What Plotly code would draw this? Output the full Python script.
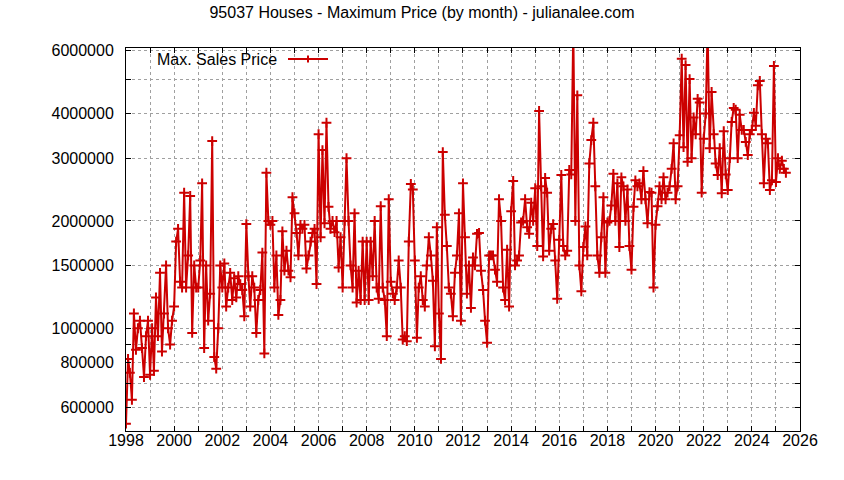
import plotly.graph_objects as go

# Monthly maximum sales price (in thousands of dollars), Jan..Dec of each year
p1998 = [540, 820, 750, 630, 1100, 870, 1000, 1050, 880, 730, 950, 1050]
p1999 = [740, 1000, 760, 1220, 950, 1430, 860, 1100, 1500, 1000, 900, 1050]
p2000 = [1150, 1750, 1900, 1350, 1300, 2400, 1300, 1600, 2350, 970, 1500, 1300]
p2001 = [1300, 1550, 2550, 880, 1500, 1050, 1250, 3350, 830, 770, 1000, 1500]
p2002 = [1300, 1520, 1150, 1300, 1430, 1200, 1380, 1220, 1400, 1330, 1280, 1080]
p2003 = [1960, 1400, 1150, 1400, 1300, 970, 1200, 1280, 1630, 850, 2730, 2000]
p2004 = [1950, 2000, 1300, 1600, 1090, 1200, 1870, 1450, 1650, 1450, 1390, 2330]
p2005 = [2100, 1850, 1600, 1950, 1900, 1950, 1470, 1600, 1750, 1850, 1900, 1330]
p2006 = [3500, 1800, 3160, 1970, 3770, 2190, 1900, 2000, 1860, 2000, 1480, 1800]
p2007 = [1300, 2000, 3000, 2000, 1500, 1300, 2100, 1180, 1450, 1200, 1750, 1200]
p2008 = [1750, 1200, 1750, 1400, 2000, 1300, 1210, 2200, 1300, 1200, 950, 2300]
p2009 = [1350, 1250, 1200, 1300, 1550, 1300, 930, 950, 920, 1750, 2540, 2450]
p2010 = [1550, 940, 1300, 1400, 1200, 1150, 1500, 1800, 1600, 1360, 890, 1920]
p2011 = [1100, 820, 3120, 2080, 1700, 1300, 1250, 1080, 1430, 1600, 2100, 1050]
p2012 = [2550, 1800, 1250, 1500, 1140, 1580, 1500, 1840, 1850, 1450, 1280, 1050]
p2013 = [910, 1600, 1600, 1600, 1460, 1350, 2300, 2000, 1300, 1200, 1660, 1150]
p2014 = [2130, 2590, 1500, 1550, 1600, 1980, 2000, 2300, 1920, 1840, 2250, 2000]
p2015 = [2470, 1700, 4070, 2500, 1590, 2640, 2400, 1650, 1900, 1960, 1550, 1210]
p2016 = [1770, 2690, 1700, 1600, 1650, 2780, 2700, 7000, 2000, 4500, 1500, 1270]
p2017 = [1690, 1930, 1600, 2900, 3370, 3770, 2500, 1600, 1430, 1800, 2330, 1430]
p2018 = [1980, 2000, 2210, 2710, 2000, 2550, 1690, 2650, 2500, 2000, 2450, 1700]
p2019 = [1460, 2190, 2600, 2500, 2550, 2300, 2760, 2300, 1970, 2410, 2400, 1300]
p2020 = [1950, 2200, 2500, 2300, 2650, 2300, 2400, 2500, 2800, 3300, 2300, 2500]
p2021 = [3480, 5700, 3220, 5470, 2930, 5000, 3000, 3900, 3500, 4400, 4300, 2400]
p2022 = [3400, 4000, 7000, 3200, 4600, 3500, 2900, 2690, 3200, 2390, 3570, 2700]
p2023 = [2440, 3000, 3790, 4150, 4100, 3000, 3970, 3600, 3600, 3330, 3060, 3500]
p2024 = [3600, 4020, 3700, 4800, 4940, 3500, 2550, 3400, 3300, 2440, 2600, 5440]
p2025 = [2570, 3000, 2800, 2950, 2800, 2730]

years = list(range(1998, 2026))
yearly = [p1998, p1999, p2000, p2001, p2002, p2003, p2004, p2005, p2006, p2007,
          p2008, p2009, p2010, p2011, p2012, p2013, p2014, p2015, p2016, p2017,
          p2018, p2019, p2020, p2021, p2022, p2023, p2024, p2025]

dates = []
prices = []
for yr, vals in zip(years, yearly):
    for m, v in enumerate(vals):
        dates.append(f"{yr}-{m + 1:02d}-01")
        prices.append(v * 1000)

y_tickvals = [600000, 700000, 800000, 900000, 1000000, 1500000, 2000000,
              3000000, 4000000, 5000000, 6000000]
y_ticktext = ["600000", "", "800000", "", "1000000", "1500000", "2000000",
              "3000000", "4000000", "", "6000000"]
x_tickyears = list(range(1998, 2027))
x_tickvals = [f"{y}-01-01" for y in x_tickyears]
x_ticktext = [str(y) if (y % 2 == 0) else "" for y in x_tickyears]

RED = "#cc0000"
FONT = "Liberation Sans, Arial, sans-serif"

fig = go.Figure()
fig.add_trace(go.Scatter(
    x=dates, y=prices, mode="lines+markers", name="Max. Sales Price",
    line=dict(color=RED, width=2),
    marker=dict(symbol="cross-thin", size=7, line=dict(color=RED, width=2)),
    showlegend=False,
))

L, R, T, B = 126, 44, 48, 49
W, H = 844, 480
pw, ph = W - L - R, H - T - B

def px(xp):
    return (xp - L) / pw

def py(yp):
    return (H - B - yp) / ph

# legend (gnuplot style: text then sample)
fig.add_annotation(x=px(279), y=py(59), xref="paper", yref="paper",
                   text="Max. Sales Price", showarrow=False, xanchor="right",
                   yanchor="middle", font=dict(size=16, color="#000000", family=FONT))
fig.add_shape(type="line", xref="paper", yref="paper", x0=px(288), x1=px(328),
              y0=py(59), y1=py(59), line=dict(color=RED, width=2))
fig.add_shape(type="line", xref="paper", yref="paper", x0=px(304.5), x1=px(311.5),
              y0=py(59), y1=py(59), line=dict(color=RED, width=2))
fig.add_shape(type="line", xref="paper", yref="paper", x0=px(308), x1=px(308),
              y0=py(55.5), y1=py(62.5), line=dict(color=RED, width=2))

fig.update_layout(
    width=W, height=H,
    margin=dict(l=L, r=R, t=T, b=B),
    paper_bgcolor="white", plot_bgcolor="white",
    font=dict(family=FONT, size=16, color="#000000"),
    title=dict(text="95037 Houses - Maximum Price (by month) - julianalee.com",
               x=0.5, xref="container", y=1 - 12 / H, yref="container",
               xanchor="center", yanchor="middle",
               font=dict(size=16, family=FONT, color="#000000")),
    xaxis=dict(type="date", range=["1998-01-01", "2026-01-01"],
               tickmode="array", tickvals=x_tickvals, ticktext=x_ticktext,
               ticks="inside", ticklen=5, tickwidth=1, tickcolor="#000000",
               showline=True, linecolor="#000000", linewidth=1, mirror="ticks",
               showgrid=True, gridcolor="#a0a0a0", gridwidth=1, griddash="3px,3px",
               zeroline=False, tickfont=dict(size=16), ticklabelstandoff=-5),
    yaxis=dict(type="log", range=[5.7118, 6.786],
               tickmode="array", tickvals=y_tickvals, ticktext=y_ticktext,
               ticks="inside", ticklen=5, tickwidth=1, tickcolor="#000000",
               showline=True, linecolor="#000000", linewidth=1, mirror="ticks",
               showgrid=True, gridcolor="#a0a0a0", gridwidth=1, griddash="3px,3px",
               zeroline=False, tickfont=dict(size=16), ticklabelstandoff=8),
)

fig.write_html("out.html", config={"displayModeBar": False},
               post_script="document.body.style.margin='0';document.body.style.overflow='hidden';")
